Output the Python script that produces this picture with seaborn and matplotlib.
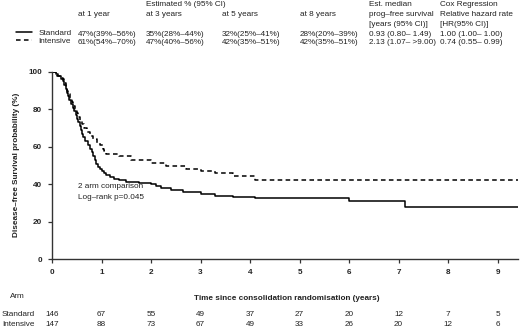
import matplotlib
matplotlib.use("Agg")
import matplotlib.pyplot as plt
import matplotlib.transforms as mtransforms
import seaborn as sns
import pandas as pd

# ---- data ----
std_t = [0, 0.08, 0.12, 0.18, 0.22, 0.25, 0.28, 0.30, 0.32, 0.35, 0.38, 0.42, 0.45,
         0.48, 0.50, 0.53, 0.56, 0.58, 0.60, 0.63, 0.67, 0.72, 0.76, 0.80, 0.83, 0.86,
         0.89, 0.93, 0.97, 1.00, 1.05, 1.10, 1.17, 1.25, 1.35, 1.5, 1.75, 2.0, 2.1, 2.2,
         2.4, 2.65, 3.0, 3.3, 3.65, 4.1, 6.0, 7.13, 9.41]
std_s = [100, 99, 98, 96, 95, 93, 91, 89, 87, 85, 83, 81, 79,
         77, 75, 73, 71, 69, 67, 65, 63, 61, 59, 57, 55, 53,
         51, 49, 48, 47, 46, 45, 44, 43, 42, 41, 40.5, 40, 39, 38,
         37, 36, 34.5, 33.5, 33, 32.5, 31, 28, 28]
int_t = [0, 0.1, 0.16, 0.22, 0.25, 0.28, 0.30, 0.33, 0.36, 0.40, 0.43, 0.46, 0.50,
         0.53, 0.56, 0.60, 0.65, 0.70, 0.76, 0.82, 0.90, 0.96, 1.03, 1.06, 1.1, 1.36,
         1.6, 2.0, 2.3, 2.7, 3.0, 3.3, 3.65, 4.1, 9.41]
int_s = [100, 98, 97, 96, 94, 92, 90, 88, 86, 84, 82, 80, 78,
         76, 74, 72, 70, 68, 66, 64, 62, 61, 59, 58, 56, 55,
         53, 51.5, 50, 48, 47, 46, 44.5, 42.5, 42.5]

arms = ["Standard", "Intensive"]
risk_times = [0, 1, 2, 3, 4, 5, 6, 7, 8, 9]
risk_std = [146, 67, 55, 49, 37, 27, 20, 12, 7, 5]
risk_int = [147, 88, 73, 67, 49, 33, 26, 20, 12, 6]

col_headers = ["at 1 year", "at 3 years", "at 5 years", "at 8 years"]
est_std = ["47%(39%\u201356%)", "35%(28%\u201344%)", "32%(25%\u201341%)", "28%(20%\u201339%)"]
est_int = ["61%(54%\u201370%)", "47%(40%\u201356%)", "42%(35%\u201351%)", "42%(35%\u201351%)"]
median_hdr = ["Est. median", "prog\u2013free survival", "[years (95% CI)]"]
median_vals = ["0.93 (0.80\u2013 1.49)", "2.13 (1.07\u2013 >9.00)"]
cox_hdr = ["Cox Regression", "Relative hazard rate", "[HR(95% CI)]"]
cox_vals = ["1.00 (1.00\u2013 1.00)", "0.74 (0.55\u2013 0.99)"]

df = pd.concat([
    pd.DataFrame({"t": std_t, "s": std_s, "arm": arms[0]}),
    pd.DataFrame({"t": int_t, "s": int_s, "arm": arms[1]}),
])

sns.set_theme(style="ticks")
plt.rcParams["font.family"] = ["Liberation Sans", "DejaVu Sans"]
FS = 5.9
W, H = 520, 329
fig = plt.figure(figsize=(W / 100, H / 100), dpi=100)
ax = fig.add_axes([52 / W, 1 - 259 / H, (518 - 52) / W, (259 - 72) / H])

sns.lineplot(data=df, x="t", y="s", style="arm", style_order=arms,
             dashes={"Standard": "", "Intensive": (3, 2.2)},
             color="black", linewidth=1.1, drawstyle="steps-post",
             estimator=None, sort=False, ax=ax, legend=True)

ax.set_xlim(0, 9.41)
ax.set_ylim(0, 100)
ax.set_xticks(range(0, 10))
ax.set_yticks([0, 20, 40, 60, 80, 100])
for s in ["top", "right"]:
    ax.spines[s].set_visible(False)
for s in ["left", "bottom"]:
    ax.spines[s].set_color("#333333")
    ax.spines[s].set_linewidth(1.0)
ax.tick_params(length=3, width=0.9, color="#333333", labelsize=FS, pad=4)
for lab in ax.get_xticklabels() + ax.get_yticklabels():
    lab.set_fontweight("bold")
ax.set_xlabel("")
ax.set_ylabel("")

# legend at top
h, l = ax.get_legend_handles_labels()
ax.get_legend().remove()
fig.legend(h, l, loc="upper left", bbox_to_anchor=(16 / W, 1 - 29 / H),
           frameon=False, fontsize=FS, handlelength=2.0, handletextpad=0.7,
           labelspacing=0.1, borderpad=0, borderaxespad=0)

def ftext(x, y, s, **kw):
    fig.text(x / W, 1 - y / H, s, fontsize=FS, va="center", color="#222222", **kw)

ftext(146, 5, "Estimated % (95% CI)")
col_x = [78, 146, 222, 300]
for x, hd, a, b in zip(col_x, col_headers, est_std, est_int):
    ftext(x, 15, hd)
    ftext(x, 34, a)
    ftext(x, 43, b)
for i, hd in enumerate(median_hdr):
    ftext(369, 5 + 10 * i, hd)
for i, hd in enumerate(cox_hdr):
    ftext(440, 5 + 10 * i, hd)
ftext(369, 34, median_vals[0])
ftext(369, 43, median_vals[1])
ftext(440, 34, cox_vals[0])
ftext(440, 43, cox_vals[1])

# annotation
ftext(78, 187, "2 arm comparison")
ftext(78, 197, "Log\u2013rank p=0.045")

# axis labels
fig.text(17 / W, 1 - 165 / H, "Disease\u2013free Survival probability (%)", rotation=90,
         fontsize=FS, fontweight="bold", ha="center", va="center", color="#222222")
fig.text(287 / W, 1 - 299 / H, "Time since consolidation randomisation (years)",
         fontsize=FS, fontweight="bold", ha="center", va="center", color="#222222")

# risk table
ftext(10, 296, "Arm")
ftext(2, 315, arms[0])
ftext(2, 324, arms[1])
trans = mtransforms.blended_transform_factory(ax.transData, fig.transFigure)
for t, a, b in zip(risk_times, risk_std, risk_int):
    ax.text(t, 1 - 315 / H, str(a), transform=trans, fontsize=FS, ha="center",
            va="center", color="#222222", clip_on=False)
    ax.text(t, 1 - 324 / H, str(b), transform=trans, fontsize=FS, ha="center",
            va="center", color="#222222", clip_on=False)

fig.savefig("out.png", dpi=100)
